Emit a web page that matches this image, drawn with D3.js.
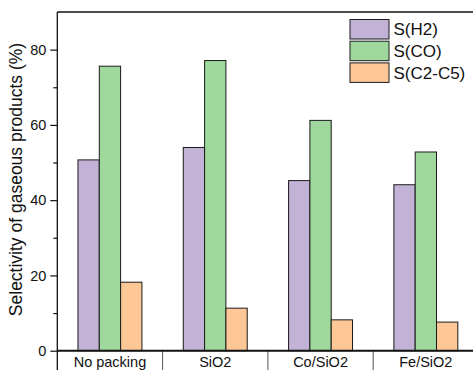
<!DOCTYPE html>
<html>
<head>
<meta charset="utf-8">
<script src="https://cdn.jsdelivr.net/npm/d3@7"></script>
<style>
  html, body { margin: 0; padding: 0; background: #fff; }
  svg { display: block; font-family: "Liberation Sans", Arial, Helvetica, sans-serif; }
</style>
</head>
<body>
<svg id="chart" width="473" height="370"></svg>
<script>
// Gas-phase product selectivity for each packing material
const categories = ["No packing", "SiO2", "Co/SiO2", "Fe/SiO2"];
const seriesNames = ["S(H2)", "S(CO)", "S(C2-C5)"];
const selH2 = [50.7, 54.0, 45.2, 44.1];
const selCO = [75.6, 77.1, 61.2, 52.8];
const selC2C5 = [18.2, 11.3, 8.2, 7.6];
const seriesColors = ["#c2b2d6", "#9fd89c", "#fdc896"];
const yTicks = [0, 20, 40, 60, 80];
const yMinorTicks = [10, 30, 50, 70];

const seriesValues = [selH2, selCO, selC2C5];
const rows = categories.map((c, i) => ({
  category: c,
  values: seriesNames.map((s, j) => ({ key: s, value: seriesValues[j][i] }))
}));

const svg = d3.select("#chart");
const plot = { left: 57.3, top: 12, bottom: 350.7 };
const bandWidth = 105.3;

const x0 = d3.scaleBand()
  .domain(categories)
  .range([plot.left, plot.left + bandWidth * categories.length])
  .paddingInner(0).paddingOuter(0);

const x1 = d3.scaleBand()
  .domain(seriesNames)
  .range([0, x0.bandwidth()])
  .paddingInner(0).paddingOuter(0.97);

const y = d3.scaleLinear().domain([0, 90]).range([plot.bottom, plot.top]);

const color = d3.scaleOrdinal().domain(seriesNames).range(seriesColors);

// Bars
const groups = svg.append("g").selectAll("g")
  .data(rows).join("g")
  .attr("transform", d => `translate(${x0(d.category)},0)`);

groups.selectAll("rect")
  .data(d => d.values).join("rect")
  .attr("x", d => x1(d.key))
  .attr("y", d => y(d.value))
  .attr("width", x1.bandwidth())
  .attr("height", d => y(0) - y(d.value))
  .attr("fill", d => color(d.key))
  .attr("stroke", "#1a1a1a")
  .attr("stroke-width", 1);

// Frame: top line, left axis
svg.append("line")
  .attr("x1", plot.left).attr("x2", 473)
  .attr("y1", plot.top).attr("y2", plot.top)
  .attr("stroke", "#111").attr("stroke-width", 1.3);

svg.append("line")
  .attr("x1", plot.left).attr("x2", plot.left)
  .attr("y1", plot.top).attr("y2", 370)
  .attr("stroke", "#111").attr("stroke-width", 1.3);

// Category separators below the baseline
svg.append("g").selectAll("line")
  .data(categories.slice(1)).join("line")
  .attr("x1", d => x0(d)).attr("x2", d => x0(d))
  .attr("y1", plot.bottom).attr("y2", 370)
  .attr("stroke", "#555").attr("stroke-width", 1);

// Baseline
svg.append("line")
  .attr("x1", plot.left).attr("x2", 473)
  .attr("y1", plot.bottom).attr("y2", plot.bottom)
  .attr("stroke", "#111").attr("stroke-width", 2);

// Y axis: major ticks with labels, minor ticks without
const yAxis = d3.axisLeft(y).tickValues(yTicks).tickSize(7).tickPadding(4).tickFormat(d3.format("d"));
const gy = svg.append("g").attr("transform", `translate(${plot.left},0)`).call(yAxis);
gy.select(".domain").remove();
gy.selectAll(".tick line").attr("stroke", "#111").attr("stroke-width", 1.2);
gy.selectAll(".tick text")
  .attr("font-size", 14.5).attr("fill", "#111")
  .style("font-family", "'Liberation Sans', Arial, sans-serif");

const yMinor = d3.axisLeft(y).tickValues(yMinorTicks).tickSize(4).tickFormat("");
const gym = svg.append("g").attr("transform", `translate(${plot.left},0)`).call(yMinor);
gym.select(".domain").remove();
gym.selectAll(".tick line").attr("stroke", "#111").attr("stroke-width", 1.2);

// Category labels
svg.append("g").selectAll("text")
  .data(categories).join("text")
  .attr("x", d => x0(d) + x0.bandwidth() / 2)
  .attr("y", 367)
  .attr("text-anchor", "middle")
  .attr("font-size", 14.5)
  .attr("fill", "#111")
  .text(d => d);

// Y axis title
svg.append("text")
  .attr("transform", `translate(22,${(42 + 317) / 2}) rotate(-90)`)
  .attr("text-anchor", "middle")
  .attr("font-size", 17.5)
  .attr("fill", "#111")
  .text("Selectivity of gaseous products (%)");

// Legend
const legend = svg.append("g").attr("transform", "translate(350,19.5)");
const legendRows = legend.selectAll("g")
  .data(seriesNames).join("g")
  .attr("transform", (d, i) => `translate(0,${i * 21.7})`);

legendRows.append("rect")
  .attr("width", 39).attr("height", 19.5)
  .attr("fill", d => color(d))
  .attr("stroke", "#1a1a1a").attr("stroke-width", 1);

legendRows.append("text")
  .attr("x", 43.5).attr("y", 15.8)
  .attr("font-size", 17)
  .attr("fill", "#111")
  .text(d => d);
</script>
</body>
</html>
